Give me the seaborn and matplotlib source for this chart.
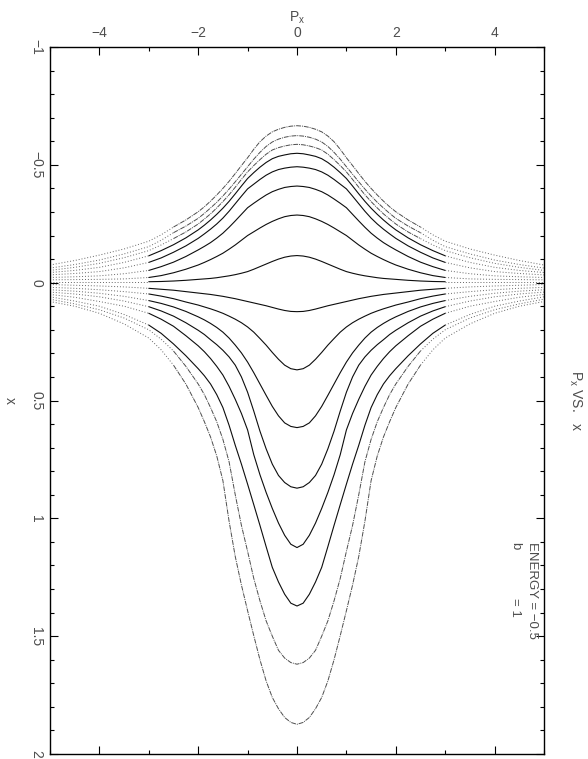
import numpy as np
import pandas as pd
import matplotlib
matplotlib.use("Agg")
import matplotlib.pyplot as plt
from matplotlib.ticker import MultipleLocator
import seaborn as sns

# P_x sample points (one side; the curves are mirrored about P_x = 0)
P_HALF = [0, 0.125, 0.25, 0.375, 0.5, 0.625, 0.75, 0.875, 1, 1.125, 1.25, 1.375, 1.5,
          1.625, 1.75, 1.875, 2, 2.25, 2.5, 2.75, 3, 3.5, 4, 4.5, 5]

# curves below the axis (positive x), inner -> outer
LOWER_1 = [0.123, 0.122, 0.118, 0.112, 0.105, 0.098, 0.092, 0.086, 0.080, 0.074, 0.068, 0.063, 0.058,
           0.054, 0.050, 0.047, 0.044, 0.038, 0.032, 0.028, 0.024, 0.018, 0.014, 0.011, 0.008]
LOWER_2 = [0.370, 0.365, 0.350, 0.325, 0.296, 0.265, 0.237, 0.210, 0.188, 0.170, 0.155, 0.142, 0.130,
           0.120, 0.111, 0.103, 0.095, 0.082, 0.068, 0.057, 0.048, 0.038, 0.030, 0.024, 0.020]
LOWER_3 = [0.615, 0.610, 0.595, 0.565, 0.525, 0.478, 0.430, 0.382, 0.337, 0.298, 0.265, 0.235, 0.210,
           0.190, 0.173, 0.158, 0.145, 0.122, 0.103, 0.088, 0.076, 0.058, 0.045, 0.036, 0.030]
LOWER_4 = [0.872, 0.866, 0.848, 0.818, 0.770, 0.705, 0.630, 0.545, 0.465, 0.400, 0.350, 0.315, 0.287,
           0.263, 0.242, 0.220, 0.202, 0.170, 0.142, 0.120, 0.102, 0.078, 0.060, 0.048, 0.040]
LOWER_5 = [1.124, 1.110, 1.072, 1.020, 0.958, 0.890, 0.815, 0.730, 0.625, 0.555, 0.495, 0.440, 0.392,
           0.355, 0.322, 0.293, 0.268, 0.225, 0.185, 0.155, 0.130, 0.100, 0.080, 0.062, 0.050]
LOWER_6 = [1.372, 1.360, 1.322, 1.270, 1.208, 1.120, 1.030, 0.942, 0.855, 0.770, 0.690, 0.605, 0.530,
           0.475, 0.430, 0.395, 0.365, 0.310, 0.260, 0.215, 0.180, 0.135, 0.100, 0.078, 0.060]
LOWER_7 = [1.619, 1.612, 1.593, 1.560, 1.500, 1.435, 1.350, 1.255, 1.140, 1.030, 0.900, 0.760, 0.665,
           0.590, 0.530, 0.475, 0.430, 0.355, 0.290, 0.240, 0.200, 0.150, 0.115, 0.090, 0.070]
LOWER_8 = [1.874, 1.866, 1.845, 1.808, 1.760, 1.690, 1.600, 1.498, 1.392, 1.283, 1.162, 1.012, 0.840,
           0.735, 0.655, 0.590, 0.530, 0.430, 0.350, 0.285, 0.235, 0.175, 0.130, 0.100, 0.080]

# curves above the axis (negative x), outer -> inner
UPPER_1 = [-0.666, -0.664, -0.659, -0.651, -0.640, -0.622, -0.598, -0.566, -0.530, -0.497, -0.463, -0.430, -0.400,
           -0.372, -0.346, -0.322, -0.301, -0.266, -0.236, -0.203, -0.176, -0.143, -0.117, -0.094, -0.075]
UPPER_2 = [-0.624, -0.622, -0.617, -0.609, -0.597, -0.578, -0.553, -0.524, -0.492, -0.460, -0.428, -0.397, -0.368,
           -0.341, -0.317, -0.294, -0.273, -0.240, -0.212, -0.180, -0.153, -0.122, -0.096, -0.077, -0.062]
UPPER_3 = [-0.587, -0.585, -0.580, -0.573, -0.563, -0.545, -0.522, -0.497, -0.470, -0.438, -0.405, -0.373, -0.344,
           -0.317, -0.292, -0.270, -0.249, -0.215, -0.187, -0.160, -0.136, -0.106, -0.082, -0.065, -0.052]
UPPER_4 = [-0.549, -0.547, -0.542, -0.536, -0.526, -0.510, -0.490, -0.467, -0.442, -0.410, -0.377, -0.345, -0.316,
           -0.290, -0.266, -0.244, -0.224, -0.190, -0.161, -0.136, -0.114, -0.086, -0.065, -0.052, -0.043]
UPPER_5 = [-0.492, -0.490, -0.486, -0.480, -0.470, -0.456, -0.438, -0.418, -0.398, -0.367, -0.335, -0.303, -0.274,
           -0.249, -0.227, -0.207, -0.188, -0.156, -0.129, -0.105, -0.086, -0.063, -0.047, -0.039, -0.033]
UPPER_6 = [-0.410, -0.408, -0.404, -0.396, -0.386, -0.372, -0.355, -0.337, -0.318, -0.290, -0.262, -0.235, -0.210,
           -0.189, -0.170, -0.154, -0.139, -0.111, -0.087, -0.068, -0.052, -0.038, -0.029, -0.025, -0.022]
UPPER_7 = [-0.287, -0.285, -0.280, -0.271, -0.260, -0.247, -0.232, -0.216, -0.200, -0.180, -0.160, -0.142, -0.125,
           -0.111, -0.098, -0.086, -0.075, -0.057, -0.042, -0.030, -0.022, -0.016, -0.014, -0.013, -0.012]
UPPER_8 = [-0.115, -0.113, -0.108, -0.100, -0.090, -0.079, -0.068, -0.057, -0.047, -0.040, -0.034, -0.029, -0.025,
           -0.021, -0.018, -0.016, -0.014, -0.010, -0.007, -0.005, -0.004, -0.004, -0.004, -0.004, -0.004]

CURVES = {
    "L1": LOWER_1, "L2": LOWER_2, "L3": LOWER_3, "L4": LOWER_4,
    "L5": LOWER_5, "L6": LOWER_6, "L7": LOWER_7, "L8": LOWER_8,
    "U1": UPPER_1, "U2": UPPER_2, "U3": UPPER_3, "U4": UPPER_4,
    "U5": UPPER_5, "U6": UPPER_6, "U7": UPPER_7, "U8": UPPER_8,
}
OUTER = ["L7", "L8", "U1", "U2", "U3"]

X_TICKS = [-4, -2, 0, 2, 4]
Y_TICKS = [-1, -0.5, 0, 0.5, 1, 1.5, 2]
Y_TICK_LABELS = ["\u22121", "\u22120.5", "0", "0.5", "1", "1.5", "2"]


def mirror(vals):
    vals = list(vals)
    return vals[::-1] + vals[1:]


p_full = [-p for p in P_HALF[::-1]] + P_HALF[1:]

rows = []
for name, vals in CURVES.items():
    for p, x in zip(p_full, mirror(vals)):
        rows.append({"curve": name, "P": p, "x": x})
df = pd.DataFrame(rows)

sns.set_style("white")
plt.rcParams["font.family"] = ["Liberation Sans", "DejaVu Sans"]
plt.rcParams["mathtext.default"] = "regular"

fig = plt.figure(figsize=(5.88, 7.59), dpi=100)
ax = fig.add_axes([50 / 588, 5 / 759, 494 / 588, 707 / 759])

for name, sub in df.groupby("curve"):
    outer = name in OUTER
    cut = 2.5 if outer else 3.0
    core = sub[sub["P"].abs() <= cut]
    if outer:
        sns.lineplot(data=core, x="P", y="x", ax=ax, color="0.3", lw=0.7,
                     linestyle=(0, (5, 1, 1, 1)), sort=False, estimator=None)
    else:
        sns.lineplot(data=core, x="P", y="x", ax=ax, color="0.05", lw=0.8,
                     sort=False, estimator=None)
    # sparse dotted tails towards the frame
    for tail in (sub[sub["P"] <= -cut], sub[sub["P"] >= cut]):
        sns.lineplot(data=tail, x="P", y="x", ax=ax, color="0.4", lw=0.7,
                     linestyle=(0, (1, 2)), sort=False, estimator=None)

ax.set_xlim(-5, 5)
ax.set_ylim(2, -1)

ax.xaxis.set_minor_locator(MultipleLocator(1))
ax.yaxis.set_minor_locator(MultipleLocator(0.1))
ax.set_xticks(X_TICKS)
ax.set_yticks(Y_TICKS)
ax.set_yticklabels(Y_TICK_LABELS)

ax.tick_params(which="both", direction="in", top=True, bottom=True, left=True, right=True,
               labeltop=True, labelbottom=False, labelleft=True, labelright=False,
               colors="black", labelcolor="0.3", labelsize=10)
ax.tick_params(which="major", length=6, width=0.8)
ax.tick_params(which="minor", length=3, width=0.8)
ax.tick_params(axis="x", pad=5)
ax.tick_params(axis="y", pad=5, labelrotation=-90)
for lab in ax.get_yticklabels():
    lab.set_verticalalignment("center")

for side in ax.spines.values():
    side.set_visible(True)
    side.set_color("black")
    side.set_linewidth(1.0)

ax.xaxis.set_label_position("top")
ax.set_xlabel(r"P$_x$", fontsize=10, color="0.3", labelpad=3)
ax.set_ylabel("x", fontsize=10, color="0.3", rotation=-90, labelpad=14, va="center")

ax.text(1.063, 0.5, r"P$_x$ VS.   x", transform=ax.transAxes, rotation=-90,
        ha="center", va="center", fontsize=10, color="0.3", clip_on=False)
ax.text(0.9696, 0.300, "ENERGY = \u22120.5", transform=ax.transAxes, rotation=-90,
        rotation_mode="anchor", ha="left", va="baseline", fontsize=9.5, color="0.3")
ax.text(0.9352, 0.300, "b", transform=ax.transAxes, rotation=-90,
        rotation_mode="anchor", ha="left", va="baseline", fontsize=9.5, color="0.3")
ax.text(0.9352, 0.2207, "= 1", transform=ax.transAxes, rotation=-90,
        rotation_mode="anchor", ha="left", va="baseline", fontsize=9.5, color="0.3")

fig.savefig("out.png", dpi=100)
